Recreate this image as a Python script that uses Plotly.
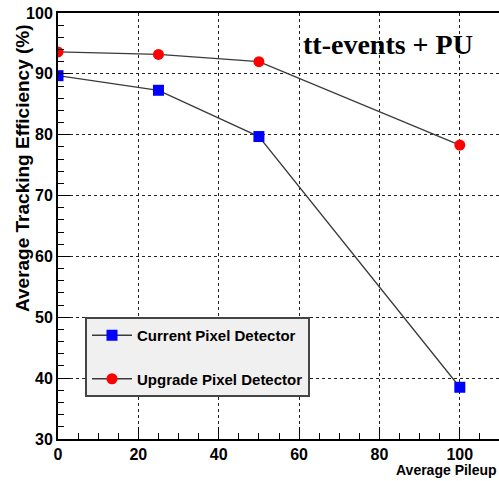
import plotly.graph_objects as go

# Average pileup values and tracking efficiencies (%)
pileup = [0, 25, 50, 100]
current_eff = [89.7, 87.3, 79.7, 38.5]
upgrade_eff = [93.6, 93.2, 92.0, 78.3]

series_names = ["Current Pixel Detector", "Upgrade Pixel Detector"]
y_ticks = [30, 40, 50, 60, 70, 80, 90, 100]
x_ticks = [0, 20, 40, 60, 80, 100]

W, H = 499, 481
ML, MR, MT, MB = 58, 0, 13, 42

SANS = "Liberation Sans, Arial, Helvetica, sans-serif"
tick_font = dict(family=SANS, size=16, color="black", weight="bold")

fig = go.Figure()
fig.add_trace(go.Scatter(
    x=pileup, y=current_eff, mode="lines+markers", name=series_names[0],
    legendgroup="a",
    line=dict(color="#3a3a3a", width=1.3),
    marker=dict(symbol="square", size=11, color="#0000ff"),
))
fig.add_trace(go.Scatter(
    x=pileup, y=upgrade_eff, mode="lines+markers", name=series_names[1],
    legendgroup="b",
    line=dict(color="#3a3a3a", width=1.3),
    marker=dict(symbol="circle", size=11, color="#ff0000"),
))

axis_common = dict(
    showline=True, linecolor="black", linewidth=2,
    ticks="inside", ticklen=12, tickwidth=1, tickcolor="black",
    showgrid=True, gridcolor="#222", griddash="dot", gridwidth=1,
    zeroline=False, tickfont=tick_font,
)

fig.update_xaxes(
    range=[0, 109.75], tickvals=x_ticks, mirror=True,
    minor=dict(dtick=5, ticks="inside", ticklen=6, tickcolor="black", showgrid=False),
    **axis_common,
)
fig.update_yaxes(
    range=[30, 100], tickvals=y_ticks,
    minor=dict(dtick=2, ticks="inside", ticklen=6, tickcolor="black", showgrid=False),
    **axis_common,
)

fig.add_annotation(
    text="<b>tt-events + PU</b>", xref="paper", yref="paper",
    x=(388 - ML) / (W - ML - MR), y=1 - (44 - MT) / (H - MT - MB),
    xanchor="center", yanchor="middle", showarrow=False,
    font=dict(family="Liberation Serif, Times New Roman, serif", size=28, color="black"),
)
fig.add_annotation(
    text="<b>Average Tracking Efficiency (%)</b>", xref="paper", yref="paper",
    x=-(ML - 22) / (W - ML - MR), y=1 - (168 - MT) / (H - MT - MB),
    xanchor="center", yanchor="middle", showarrow=False, textangle=-90,
    font=dict(family=SANS, size=19, color="black"),
)
fig.add_annotation(
    text="<b>Average Pileup</b>", xref="paper", yref="paper",
    x=1.0, y=-(470 - (H - MB)) / (H - MT - MB),
    xanchor="right", yanchor="middle", showarrow=False,
    font=dict(family=SANS, size=14, color="black"),
)

fig.update_layout(
    width=W, height=H,
    margin=dict(l=ML, r=MR, t=MT, b=MB),
    paper_bgcolor="white", plot_bgcolor="white",
    showlegend=True,
    legend=dict(
        x=(85 - ML) / (W - ML - MR), y=1 - (317 - MT) / (H - MT - MB),
        xanchor="left", yanchor="top",
        bgcolor="#f0f0f0", bordercolor="#444", borderwidth=2,
        font=dict(family=SANS, size=15, color="black", weight="bold"),
        tracegroupgap=21, itemwidth=40,
    ),
)

fig.write_html("out.html")
